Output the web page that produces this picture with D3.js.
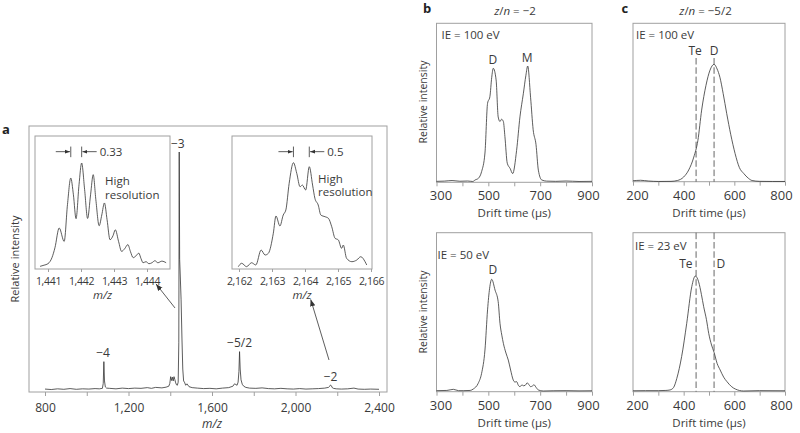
<!DOCTYPE html>
<html><head><meta charset="utf-8">
<script src="https://cdn.jsdelivr.net/npm/d3@7"></script>
<style>body{margin:0;background:#fff}svg{display:block}</style>
</head><body><svg id="c" width="800" height="433"></svg>
<script>
// ---------------- DATA ----------------
// Panel a: full mass spectrum (m/z, relative intensity %)
const mainMz = [800,830,860,890,920,950,980,1010,1040,1060,1075,1079,1082,1085,1089,1095,1110,1140,1170,1200,1230,1260,1290,1310,1330,1360,1380,1393,1398,1402,1406,1410,1414,1418,1422,1426,1430,1434,1438,1441,1443,1445,1448,1452,1456,1460,1464,1468,1474,1480,1490,1505,1530,1560,1590,1620,1650,1680,1700,1708,1714,1720,1725,1729,1732,1735,1739,1745,1752,1762,1780,1810,1840,1870,1900,1930,1960,1990,2020,2050,2080,2110,2140,2158,2164,2168,2172,2176,2182,2195,2220,2250,2280,2300,2330,2360,2400];
const mainInt = [0.6,0.4,0.7,0.5,0.8,0.5,0.7,0.6,0.8,0.7,0.9,3,12.1,4,1.5,1.0,0.9,0.7,1.0,0.8,1.0,0.9,1.2,0.9,1.3,1.1,1.4,1.8,3,5.8,4.2,5.6,4.0,5.8,4.6,3.2,2.4,2.2,3.5,20,100,55,48,38,22,9,4,3.5,2.2,2.8,1.6,1.2,1.0,0.8,0.9,0.7,1.0,1.2,1.8,2.8,2.5,2.2,3.5,8,16.3,9,4.5,2.6,1.8,1.3,1.0,0.9,1.1,0.8,0.7,0.9,0.7,0.6,0.8,0.6,0.7,0.8,1.0,1.3,1.8,2.3,2.0,1.2,0.9,0.7,0.6,0.7,1.0,0.6,0.5,0.6,0.5];
const mainTicks = [800,1000,1200,1400,1600,1800,2000,2200,2400];
const mainTickLabels = [800,1200,1600,2000,2400];
const chargeLabels = ["\u22124","\u22123","\u22125/2","\u22122"];
const chargeMz = [1078,1436,1732,2168];
const chargeTop = [12.1,100,16.3,2.3];
// arrows pointing to insets: [fromMz, fromInt, toMz, toInt]
const arrowsA = [[1422.8,34.6,1331.7,44.7],[2160.5,12.8,2072.8,38.2]];

// Inset 1: high resolution around -3
const inset1Mz = [1440.76,1440.88,1441.0,1441.12,1441.21,1441.34,1441.49,1441.59,1441.69,1441.77,1441.85,1441.94,1442.02,1442.11,1442.2,1442.29,1442.37,1442.45,1442.55,1442.63,1442.71,1442.79,1442.88,1442.97,1443.04,1443.14,1443.23,1443.32,1443.42,1443.5,1443.58,1443.67,1443.75,1443.82,1443.88,1443.97,1444.06,1444.15,1444.24,1444.33,1444.45,1444.58];
const inset1Int = [2.5,3.6,5,10.7,20,38.7,26,60.7,85.8,70,47.5,79.5,100,74.8,47.7,70,89,65.4,40.8,51,62.3,46.5,27.6,31.4,37,25.8,16.6,19,23,16.3,10.7,12.5,15,9.7,5.9,6.9,5,5.9,7.8,5.9,7.4,5.9];
const inset1Ticks = [1441,1442,1443,1444];
const inset1Sep = [1441.69,1442.02];
const inset1SepLabel = "0.33";

// Inset 2: high resolution around -2
const inset2Mz = [2161.98,2162.08,2162.23,2162.38,2162.51,2162.67,2162.79,2162.89,2163.04,2163.12,2163.24,2163.34,2163.42,2163.52,2163.65,2163.75,2163.85,2163.92,2164.02,2164.13,2164.23,2164.3,2164.4,2164.48,2164.61,2164.71,2164.81,2164.91,2165.01,2165.11,2165.16,2165.26,2165.42,2165.57,2165.69,2165.82,2165.87];
const inset2Int = [2.2,5.4,2.2,5.9,3.8,17.9,13.2,14.8,33.7,50,40.6,50.9,55.7,80.8,100.3,90.3,77.6,79.2,74.5,96.5,79.2,66.7,60.4,50.9,49.3,47.8,39.9,29,27.4,19.5,22.6,10.1,6.9,8.5,11.6,6.9,3.8];
const inset2Ticks = [2162,2163,2164,2165,2166];
const inset2Sep = [2163.65,2164.13];
const inset2SepLabel = "0.5";

// Panel b: z/n = -2 arrival time distributions
const bTicks = [300,400,500,600,700,800,900];
const bTickLabels = [300,500,700,900];
const driftB1 = [300,330,360,390,420,440,449,462,474,487,497,506,513,519,530,538,545,551,558,564,573,584,594,609,622,635,645,652,663,673,684,693,706,725,760,800,850,900];
const intB1 = [0.3,0.5,1.0,0.4,0.6,0.2,1.5,3,8.7,24.8,67.7,73.5,90,98,88,56,52,54,52,39,16,11.5,7,27,56,76,92,100,73,44.9,32,10,1.5,0.5,0.3,0.6,0.2,0.3];
const driftB2 = [300,340,365,385,403,430,442,461,474,487,497,505,513,526,538,545,552,558,568,577,586,596,603,609,616,622,630,635,642,650,657,663,670,676,685,693,712,750,800,850,900];
const intB2 = [0.3,0.5,1.5,0.3,0.3,0.5,1.8,6.9,15.8,36.7,72.6,92,100,90.3,80,60.6,50,42.7,34,27.7,18.8,9.9,8,8.4,5,3.9,5.5,4.7,5,7.3,5.5,3.9,4.5,5.6,3,0.9,0,0.2,0.3,0.1,0.2];
const peakLabelsB1 = ["D","M"], peakDriftB1 = [517,650];
const peakLabelsB2 = ["D"], peakDriftB2 = [517];

// Panel c: z/n = -5/2
const cTicks = [200,300,400,500,600,700,800];
const cTickLabels = [200,400,600,800];
const driftC1 = [200,230,260,300,350,375,400,420,440,456,471,488,504,520,532,543,556,570,586,603,620,637,655,670,700,750,800];
const intC1 = [0.8,1.2,0.6,0.2,0.3,1,4,10,21,35,61,82,95,100,96,89,75,58,40,24,12,7,3,1,0.3,0.2,0.2];
const driftC2 = [200,250,300,330,346,360,373,392,412,432,446,459,470,479,490,499,510,520,532,544,558,571,588,604,637,700,800];
const intC2 = [0.2,0.3,0.3,0.5,0.9,3,11,29.9,58.8,90.7,100,95,84,73.3,62,50,40,33.6,24,18.3,12,8.1,4,1.7,0,0.3,0.2];
const teDrift = 449, dDrift = 520;

// ---------------- DRAWING ----------------
const FONT = "'Open Sans', 'Noto Sans', sans-serif";
const gray = '#a0a0a0', ink = '#333333', txt = '#3a3a3a';
const svg = d3.select('#c');
const defs = svg.append('defs');
function marker(id, size){
  defs.append('marker').attr('id', id).attr('viewBox','0 0 10 10').attr('refX',10).attr('refY',5)
    .attr('markerWidth', size).attr('markerHeight', size).attr('markerUnits','userSpaceOnUse')
    .attr('orient','auto').append('path').attr('d','M0,1.2L10,5L0,8.8Z').attr('fill', ink);
}
marker('ahBig', 7); marker('ahSmall', 5);

function frame(x0,y0,x1,y1){
  svg.append('rect').attr('x',x0).attr('y',y0).attr('width',x1-x0).attr('height',y1-y0)
    .attr('fill','none').attr('stroke',gray).attr('stroke-width',1);
}
function text(x,y,s,opt={}){
  const t = svg.append('text').attr('x',x).attr('y',y).attr('font-family',FONT)
    .attr('font-size',opt.fs||12).attr('fill',opt.fill||txt)
    .attr('text-anchor',opt.anchor||'start').attr('font-weight',opt.fw||'normal')
    .attr('font-style',opt.fst||'normal');
  if (opt.rot) t.attr('transform',`rotate(${opt.rot},${x},${y})`);
  t.text(s);
  return t;
}
function xAxis(scale, y, ticks, labelled, fmt, fs, tickLen, baseline, edgeShift=0, ls=0){
  const pad = baseline - y - tickLen - 0.71*fs;
  const ax = d3.axisBottom(scale).tickValues(ticks).tickSize(tickLen).tickPadding(pad)
    .tickFormat(d => labelled.includes(d) ? fmt(d) : '');
  const g = svg.append('g').attr('transform',`translate(0,${y})`).call(ax);
  g.select('.domain').remove();
  g.selectAll('line').attr('stroke',gray);
  g.selectAll('text').attr('font-size',fs).attr('fill',txt).attr('font-family',FONT)
    .attr('letter-spacing', ls)
    .attr('dx', d => d===ticks[0] ? edgeShift : (d===ticks[ticks.length-1] ? -edgeShift : 0));
  return g;
}
function curve(xs, ys, sx, sy, type, w=0.8){
  const pts = xs.map((d,i)=>[d, ys[i]]);
  svg.append('path').attr('d', d3.line().x(d=>sx(d[0])).y(d=>sy(d[1])).curve(type)(pts))
    .attr('fill','none').attr('stroke',ink).attr('stroke-width',w).attr('stroke-linejoin','round');
}
const comma = d3.format(',');
const plain = d3.format('d');

// ---- Panel a ----
const xA = d3.scaleLinear().domain([800,2400]).range([45,379]);
const yA = d3.scaleLinear().domain([0,100]).range([390.5,152]);
frame(29,126,387,392);
xAxis(xA, 392, mainTicks, mainTickLabels, comma, 12, 4, 411.5);
curve(mainMz, mainInt, xA, yA, d3.curveLinear, 0.8);
chargeLabels.forEach((l,i)=> text(xA(chargeMz[i]), yA(chargeTop[i]) - 4.5, l, {anchor:'middle', fs:12}));
arrowsA.forEach(a => {
  svg.append('line').attr('x1',xA(a[0])).attr('y1',yA(a[1])).attr('x2',xA(a[2])).attr('y2',yA(a[3]))
    .attr('stroke',ink).attr('stroke-width',0.8).attr('marker-end','url(#ahBig)');
});
text(2, 133.5, 'a', {fs:13, fw:'bold', fill:'#222'});
text(18.5, 259, 'Relative intensity', {fs:11, anchor:'middle', rot:-90});
text(xA(1600), 428, 'm/z', {fs:12, anchor:'middle', fst:'italic'});

// ---- Insets ----
const yI = d3.scaleLinear().domain([0,100]).range([269,163]);
function inset(x0, x1, scale, ticks, mz, inten, sep, sepLabel, hrX, hrY){
  frame(x0,136,x1,269);
  xAxis(scale, 269, ticks, ticks, comma, 10.5, 3, 284.5, 0, -0.3);
  curve(mz, inten, scale, yI, d3.curveMonotoneX, 0.8);
  const ya = yI(110.7);
  sep.forEach(s => svg.append('line').attr('x1',scale(s)).attr('x2',scale(s))
     .attr('y1',yI(115.5)).attr('y2',yI(105.5)).attr('stroke',ink).attr('stroke-width',0.8));
  const a = scale(sep[0]), b = scale(sep[1]);
  svg.append('line').attr('x1',a-15).attr('x2',a-0.8).attr('y1',ya).attr('y2',ya)
    .attr('stroke',ink).attr('stroke-width',0.8).attr('marker-end','url(#ahSmall)');
  svg.append('line').attr('x1',b+15).attr('x2',b+0.8).attr('y1',ya).attr('y2',ya)
    .attr('stroke',ink).attr('stroke-width',0.8).attr('marker-end','url(#ahSmall)');
  text(b+18, ya+4.2, sepLabel, {fs:11.5});
  text(hrX, hrY, 'High', {fs:11.5});
  text(hrX, hrY+13.5, 'resolution', {fs:11.5});
  text((x0+x1)/2, 298.5, 'm/z', {fs:11.5, anchor:'middle', fst:'italic'});
}
const xI1 = d3.scaleLinear().domain([1441,1444]).range([48,147]);
const xI2 = d3.scaleLinear().domain([2162,2166]).range([239,371]);
inset(35,170,xI1,inset1Ticks,inset1Mz,inset1Int,inset1Sep,inset1SepLabel,105,185);
inset(232,372,xI2,inset2Ticks,inset2Mz,inset2Int,inset2Sep,inset2SepLabel,318,182.5);

// ---- Panels b and c ----
function drift(x0,x1,y0,y1,xd,ticks,labels,dr,inten,base,peakY,axisBaseline,titleBaseline){
  const sx = d3.scaleLinear().domain(xd).range([x0,x1]);
  const sy = d3.scaleLinear().domain([0,100]).range([base,peakY]);
  frame(x0,y0,x1,y1);
  xAxis(sx, y1, ticks, labels, plain, 13, 4, axisBaseline, 4);
  curve(dr, inten, sx, sy, d3.curveMonotoneX, 0.8);
  text((x0+x1)/2, titleBaseline, 'Drift time (\u03bcs)', {fs:11.5, anchor:'middle'});
  return {sx, sy};
}
// b top
const b1 = drift(436.5,592,23.3,182.3,[300,900],bTicks,bTickLabels,driftB1,intB1,181.7,66,200,216.5);
text(441.5,39.3,'IE = 100 eV',{fs:11.5});
peakLabelsB1.forEach((l,i)=> text(b1.sx(peakDriftB1[i]), i===0?64:62, l, {fs:12, anchor:'middle'}));
text(426.5,102,'Relative intensity',{fs:10.5, anchor:'middle', rot:-90});
// b bottom
const b2 = drift(436.5,592,232.7,391.7,[300,900],bTicks,bTickLabels,driftB2,intB2,391,279.3,410,426.5);
text(437.5,259.3,'IE = 50 eV',{fs:11.5});
peakLabelsB2.forEach((l,i)=> text(b2.sx(peakDriftB2[i]), 274, l, {fs:12, anchor:'middle'}));
text(426.5,312,'Relative intensity',{fs:10.5, anchor:'middle', rot:-90});
// titles
const tb = svg.append('text').attr('x',515).attr('y',14.5).attr('text-anchor','middle')
  .attr('font-family',FONT).attr('font-size',11.5).attr('fill',txt);
tb.append('tspan').attr('font-style','italic').text('z');
tb.append('tspan').text('/');
tb.append('tspan').attr('font-style','italic').text('n');
tb.append('tspan').text(' = \u22122');
text(423,13,'b',{fs:13, fw:'bold', fill:'#222'});

// c top
const c1 = drift(633,785,23.3,181.7,[200,800],cTicks,cTickLabels,driftC1,intC1,181.7,64.3,200,216.5);
text(636,39.3,'IE = 100 eV',{fs:11.5});
function dashes(s, ytop, ybot){
  [teDrift,dDrift].forEach(v => svg.append('line').attr('x1',s(v)).attr('x2',s(v))
    .attr('y1',ytop).attr('y2',ybot).attr('stroke','#555').attr('stroke-width',0.9)
    .attr('stroke-dasharray','6.5,2.8'));
}
dashes(c1.sx, 58, 181.7);
text(c1.sx(teDrift)-1, 55, 'Te', {fs:12, anchor:'middle'});
text(c1.sx(dDrift), 55, 'D', {fs:12, anchor:'middle'});
// c bottom
const c2 = drift(633,785,232.7,391.7,[200,800],cTicks,cTickLabels,driftC2,intC2,391,276,410,426.5);
text(635,250,'IE = 23 eV',{fs:11.5});
dashes(c2.sx, 232.7, 391.7);
text(c2.sx(teDrift)-3.5, 268, 'Te', {fs:12, anchor:'end'});
text(c2.sx(dDrift)+2.5, 268, 'D', {fs:12, anchor:'start'});
const tc = svg.append('text').attr('x',705.5).attr('y',14.5).attr('text-anchor','middle')
  .attr('font-family',FONT).attr('font-size',11.5).attr('fill',txt);
tc.append('tspan').attr('font-style','italic').text('z');
tc.append('tspan').text('/');
tc.append('tspan').attr('font-style','italic').text('n');
tc.append('tspan').text(' = \u22125/2');
text(621.5,12.5,'c',{fs:13, fw:'bold', fill:'#222'});
</script></body></html>
